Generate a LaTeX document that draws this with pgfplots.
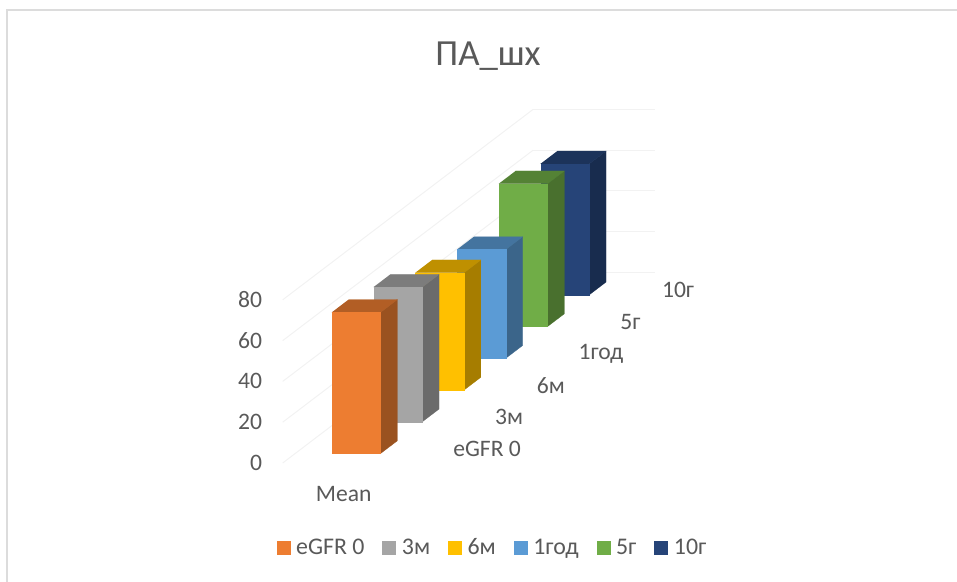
\documentclass[border=0pt]{standalone}
\usepackage{pgfplots}
\usepackage{fontspec}
\setmainfont{Carlito}
\pgfplotsset{compat=1.18}

\definecolor{labelgray}{HTML}{595959}
\definecolor{framegray}{HTML}{DCDCDC}
\definecolor{gridgray}{HTML}{F2F2F2}
\definecolor{fOrange}{HTML}{ED7D31}\definecolor{sOrange}{HTML}{9A5220}\definecolor{tOrange}{HTML}{B25E25}
\definecolor{fGray}{HTML}{A5A5A5}\definecolor{sGray}{HTML}{6B6B6B}\definecolor{tGray}{HTML}{7C7C7C}
\definecolor{fYellow}{HTML}{FFC000}\definecolor{sYellow}{HTML}{A67D00}\definecolor{tYellow}{HTML}{BF9000}
\definecolor{fBlue}{HTML}{5B9BD5}\definecolor{sBlue}{HTML}{3B658A}\definecolor{tBlue}{HTML}{44749F}
\definecolor{fGreen}{HTML}{70AD47}\definecolor{sGreen}{HTML}{49702E}\definecolor{tGreen}{HTML}{548235}
\definecolor{fNavy}{HTML}{264478}\definecolor{sNavy}{HTML}{182C4E}\definecolor{tNavy}{HTML}{1C335A}

% One column: side, top and front faces, spanning x 0.3..0.7 and depth #1..#2, height #3
\newcommand{\column}[6]{%
  \addplot3[draw=#5,fill=#5,line width=.2pt,forget plot] coordinates {(0.7,#1,0)(0.7,#2,0)(0.7,#2,#3)(0.7,#1,#3)};
  \addplot3[draw=#6,fill=#6,line width=.2pt,forget plot] coordinates {(0.3,#1,#3)(0.7,#1,#3)(0.7,#2,#3)(0.3,#2,#3)};
  \addplot3[draw=#4,fill=#4,line width=.2pt,forget plot] coordinates {(0.3,#1,0)(0.7,#1,0)(0.7,#1,#3)(0.3,#1,#3)};
}

\begin{document}
\begin{tikzpicture}[x=0.75pt,y=-0.75pt]
\useasboundingbox (0,0) rectangle (957,582);
\draw[framegray,line width=1.5pt] (7,582) -- (7,10) -- (957,10);
\node[text=labelgray,font=\fontsize{27.6}{30}\selectfont] at (488,56) {ПА\_шх};
\begin{axis}[
  at={(212.025pt,-347.25pt)},anchor=origin,
  x={(91.5pt,0pt)},y={(31.3125pt,23.8125pt)},z={(0pt,1.53pt)},
  xmin=0,xmax=1,ymin=0,ymax=6,zmin=0,zmax=80,
  clip=false,
  axis line style={draw=none},
  tick style={draw=none},
  xtick={0.5},xticklabels={Mean},
  ytick={0.5,1.5,2.5,3.5,4.5,5.5},
  yticklabels={eGFR 0,3м,6м,1год,5г,10г},
  ztick={0,20,40,60,80},
  zmajorgrids=true,
  major grid style={gridgray,line width=.75pt},
  /pgf/number format/assume math mode=true,
  tick label style={text=labelgray,font=\fontsize{17.7}{20}\selectfont},
  x tick label style={anchor=center,yshift=-23.25pt},
  y tick label style={anchor=west,xshift=17.25pt,yshift=-1.5pt},
  z tick label style={anchor=east,xshift=-12pt},
  legend columns=-1,
  legend style={draw=none,fill=none,at={(-0.0277,-0.24)},anchor=west,
    text=labelgray,font=\fontsize{17.9}{20}\selectfont,
    /tikz/every even column/.append style={column sep=11.5pt}},
  legend image code/.code={\fill[#1,draw=none] (0pt,-5.25pt) rectangle (10.5pt,5.25pt);\path[draw=none,fill=none] (0pt,0pt) -- (12.6pt,0pt);},
]
\addlegendimage{fill=fOrange}\addlegendentry{eGFR 0}
\addlegendimage{fill=fGray}\addlegendentry{3м}
\addlegendimage{fill=fYellow}\addlegendentry{6м}
\addlegendimage{fill=fBlue}\addlegendentry{1год}
\addlegendimage{fill=fGreen}\addlegendentry{5г}
\addlegendimage{fill=fNavy}\addlegendentry{10г}
\column{5.3}{5.7}{64.2}{fNavy}{sNavy}{tNavy}
\column{4.3}{4.7}{70}{fGreen}{sGreen}{tGreen}
\column{3.3}{3.7}{53.3}{fBlue}{sBlue}{tBlue}
\column{2.3}{2.7}{57.5}{fYellow}{sYellow}{tYellow}
\column{1.3}{1.7}{66}{fGray}{sGray}{tGray}
\column{0.3}{0.7}{69.2}{fOrange}{sOrange}{tOrange}
\end{axis}
\end{tikzpicture}
\end{document}
